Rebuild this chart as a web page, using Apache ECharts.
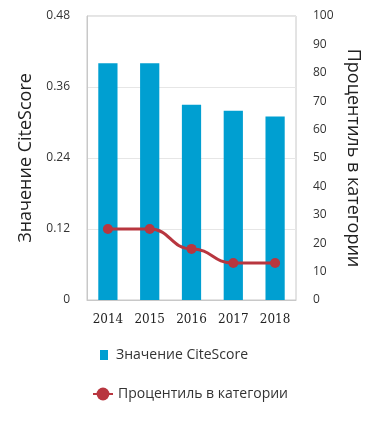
<!DOCTYPE html>
<html><head><meta charset="utf-8">
<script src="https://cdn.jsdelivr.net/npm/echarts@6/dist/echarts.min.js"></script>
<style>html,body{margin:0;padding:0;background:#fff}#c{width:377px;height:440px}</style>
</head><body><div id="c"></div>
<script>
const years = ['2014','2015','2016','2017','2018'];
const citeScore = [0.40, 0.40, 0.33, 0.32, 0.31];
const percentile = [25, 25, 18, 13, 13];
const leftTicks = [0, 0.12, 0.24, 0.36, 0.48];
const barName = 'Значение CiteScore';
const lineName = 'Процентиль в категории';

const chart = echarts.init(document.getElementById('c'));
const sans = '"Open Sans", "Noto Sans", sans-serif';
chart.setOption({
  animation: false,
  grid: {left: 87, right: 81, top: 16, bottom: 140, show: true, borderColor: '#c8c8c8', borderWidth: 1},
  legend: [
    {data: [{name: barName, icon: 'rect'}], left: 100, top: 348, padding: 0, itemWidth: 8, itemHeight: 10,
     textStyle: {fontFamily: sans, fontSize: 14, color: '#333', padding: [0, 0, 0, 3]}},
    {data: [{name: lineName}], left: 92, top: 387, padding: 0, itemWidth: 20, itemHeight: 16,
     textStyle: {fontFamily: sans, fontSize: 14, color: '#333'}}
  ],
  xAxis: {
    type: 'category', data: years,
    axisLine: {lineStyle: {color: '#c8c8c8'}},
    axisTick: {show: false},
    axisLabel: {fontFamily: '"DejaVu Serif", "Liberation Serif", serif', fontSize: 12, color: '#222', margin: 14}
  },
  yAxis: [
    {type: 'value', min: 0, max: 0.48, interval: 0.12,
     name: barName, nameLocation: 'middle', nameGap: 51, nameRotate: 90,
     nameTextStyle: {fontFamily: sans, fontSize: 18, color: '#222'},
     axisLine: {show: true, lineStyle: {color: '#c8c8c8'}},
     axisTick: {show: false},
     splitLine: {lineStyle: {color: '#e6e6e6'}},
     axisLabel: {fontFamily: sans, fontSize: 12, color: '#333', margin: 17, padding: [4, 0, 0, 0],
       formatter: v => { const t = leftTicks.find(x => Math.abs(x - v) < 1e-9); return t === 0 ? '0' : String(t); }}
    },
    {type: 'value', min: 0, max: 100, interval: 10, position: 'right',
     name: lineName, nameLocation: 'middle', nameGap: 38, nameRotate: -90,
     nameTextStyle: {fontFamily: sans, fontSize: 18, color: '#222'},
     axisLine: {show: false}, axisTick: {show: false}, splitLine: {show: false},
     axisLabel: {fontFamily: sans, fontSize: 12, color: '#333', margin: 17, padding: [4, 0, 0, 0]}
    }
  ],
  series: [
    {name: barName, type: 'bar', data: citeScore, barWidth: '46%', itemStyle: {color: '#009fd1'}},
    {name: lineName, type: 'line', yAxisIndex: 1, data: percentile, smooth: 0.5, smoothMonotone: 'x',
     symbol: 'circle', symbolSize: 10,
     lineStyle: {color: '#b8363f', width: 3}, itemStyle: {color: '#b8363f'}}
  ]
});
</script></body></html>
